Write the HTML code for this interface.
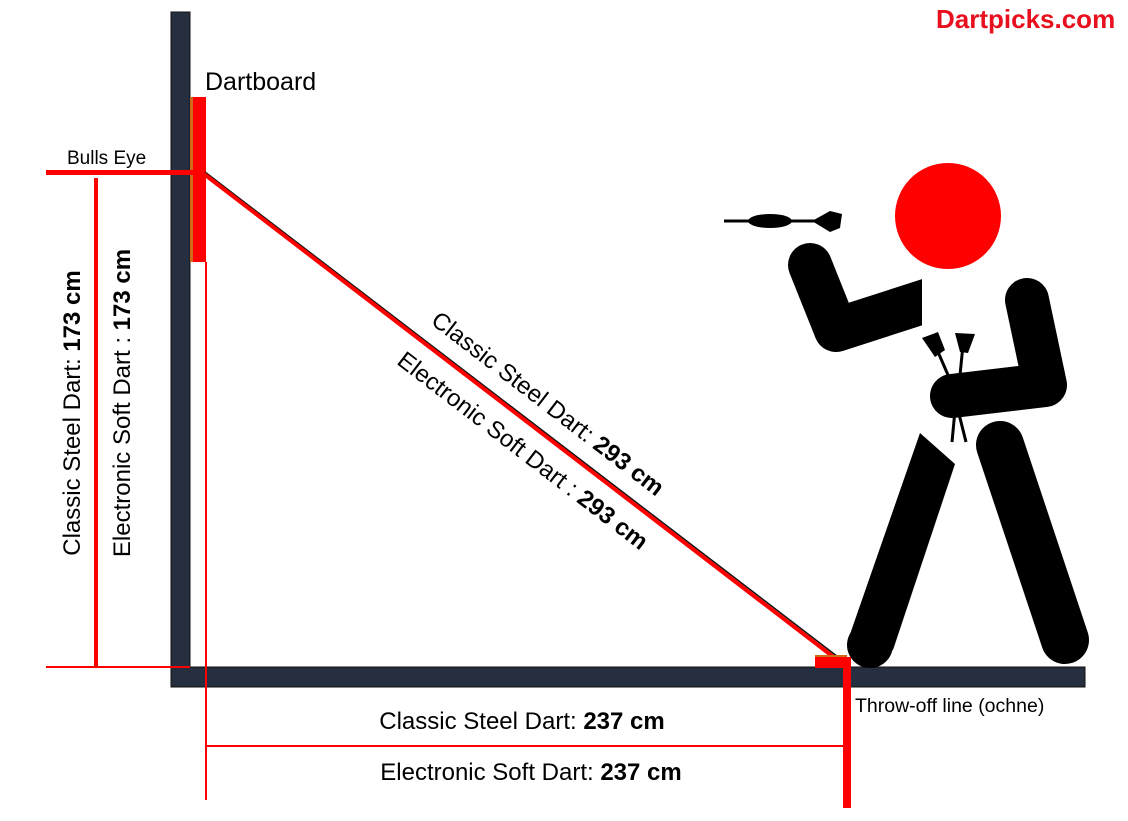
<!DOCTYPE html>
<html><head><meta charset="utf-8"><style>
body{margin:0;background:#fff}
svg{display:block}
text{font-family:"Liberation Sans",Arial,sans-serif}
</style></head><body>
<svg width="1128" height="821" viewBox="0 0 1128 821" xmlns="http://www.w3.org/2000/svg">
<defs><clipPath id="c"><rect x="0" y="0" width="922" height="821"/></clipPath></defs>
<rect width="1128" height="821" fill="#fff"/>
<rect x="171" y="12" width="19" height="675" fill="#252f3f" stroke="#111" stroke-width="1"/>
<rect x="171" y="667" width="914" height="20" fill="#252f3f" stroke="#111" stroke-width="1"/>
<rect x="190" y="97" width="3" height="165" fill="#d06a1a"/>
<rect x="193" y="97" width="13" height="165" fill="#f00"/>
<rect x="46" y="170" width="156" height="5" fill="#f00"/>
<line x1="46" y1="667" x2="190" y2="667" stroke="#f00" stroke-width="2"/>
<rect x="94" y="178" width="4" height="489" fill="#f00"/>
<rect x="205" y="262" width="2" height="538" fill="#f00"/>
<line x1="205" y1="172" x2="842" y2="660" stroke="#111" stroke-width="1.5"/>
<line x1="204" y1="174" x2="840" y2="662" stroke="#f00" stroke-width="4"/>
<rect x="815" y="655" width="32" height="3" fill="#d06a1a"/>
<rect x="815" y="657" width="33" height="11" fill="#f00"/>
<rect x="843" y="657" width="8" height="151" fill="#f00"/>
<line x1="207" y1="746" x2="843" y2="746" stroke="#f00" stroke-width="2"/>
<circle cx="948" cy="216" r="53" fill="#f00"/>
<polyline clip-path="url(#c)" points="810,265 836,330 960,290" fill="none" stroke="#000" stroke-width="44" stroke-linecap="round" stroke-linejoin="round"/>
<polyline points="1027,300 1045,385 952,396" fill="none" stroke="#000" stroke-width="44" stroke-linecap="round" stroke-linejoin="round"/>
<polygon points="920,433 955,464 893,650 848,640" fill="#000"/>
<circle cx="870" cy="645" r="23" fill="#000"/>
<line x1="1000" y1="445" x2="1065" y2="640" stroke="#000" stroke-width="48" stroke-linecap="round"/>
<g stroke="#000" stroke-width="3" fill="#000">
<line x1="935" y1="345" x2="948" y2="375"/>
<line x1="963" y1="345" x2="960" y2="375"/>
<line x1="955" y1="410" x2="952" y2="442"/>
<line x1="958" y1="410" x2="966" y2="442"/>
</g>
<path d="M922,338 L938,332 L945,350 L935,357 Z" fill="#000"/>
<path d="M955,333 L975,334 L968,353 L960,352 Z" fill="#000"/>
<line x1="724" y1="221" x2="820" y2="221" stroke="#000" stroke-width="3"/>
<ellipse cx="770" cy="221" rx="22" ry="7" fill="#000"/>
<path d="M812,221 L830,211 L842,214 L840,228 L830,232 Z" fill="#000"/>
<text x="936" y="28" font-size="26" font-weight="bold" fill="#e8101e">Dartpicks.com</text>
<text x="205" y="90" font-size="25" fill="#000">Dartboard</text>
<text x="67" y="164" font-size="19" fill="#000">Bulls Eye</text>
<text x="855" y="712" font-size="19.5" fill="#000">Throw-off line (ochne)</text>
<text transform="translate(80,413) rotate(-90)" text-anchor="middle" font-size="24">Classic Steel Dart: <tspan font-weight="bold">173 cm</tspan></text>
<text transform="translate(130,403) rotate(-90)" text-anchor="middle" font-size="24">Electronic Soft Dart : <tspan font-weight="bold">173 cm</tspan></text>
<text transform="translate(543,410) rotate(37.5)" text-anchor="middle" font-size="24">Classic Steel Dart: <tspan font-weight="bold">293 cm</tspan></text>
<text transform="translate(518,457) rotate(37.5)" text-anchor="middle" font-size="24">Electronic Soft Dart : <tspan font-weight="bold">293 cm</tspan></text>
<text x="522" y="729" text-anchor="middle" font-size="24">Classic Steel Dart: <tspan font-weight="bold">237 cm</tspan></text>
<text x="531" y="780" text-anchor="middle" font-size="24">Electronic Soft Dart: <tspan font-weight="bold">237 cm</tspan></text>
</svg>
</body></html>
